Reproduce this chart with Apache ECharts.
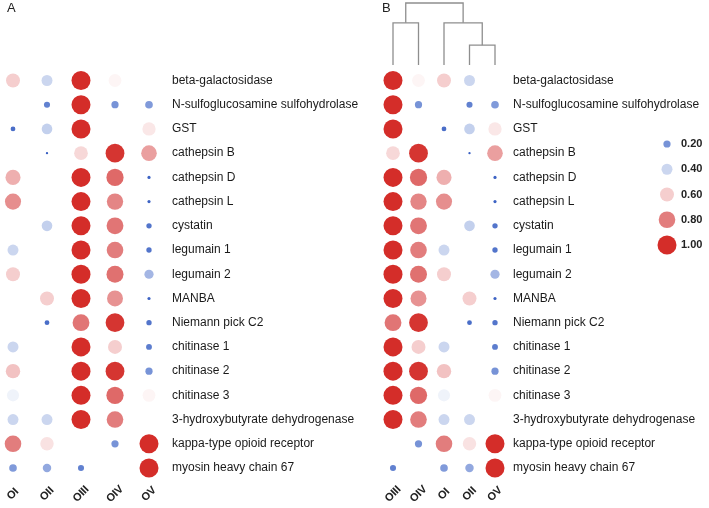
<!DOCTYPE html>
<html>
<head>
<meta charset="utf-8">
<script src="https://cdn.jsdelivr.net/npm/echarts@6/dist/echarts.min.js"></script>
<style>html,body{margin:0;background:#fff}#chart{width:709px;height:508px}</style>
</head>
<body>
<div id="chart"></div>
<script>
// genes (rows, top to bottom)
var genes = ['beta-galactosidase','N-sulfoglucosamine sulfohydrolase','GST','cathepsin B','cathepsin D',
  'cathepsin L','cystatin','legumain 1','legumain 2','MANBA','Niemann pick C2','chitinase 1',
  'chitinase 2','chitinase 3','3-hydroxybutyrate dehydrogenase','kappa-type opioid receptor','myosin heavy chain 67'];
var groupsA = ['OI','OII','OIII','OIV','OV'];
var groupsB = ['OIII','OIV','OI','OII','OV'];   // clustered order
// relative values per group (null = no dot)
var valOI   = [0.60,null,0.10,null,0.68,0.76,null,0.40,0.60,null,null,0.40,0.63,0.47,0.40,0.80,0.22];
var valOII  = [0.40,0.15,0.38,0.03,null,null,0.38,null,null,0.60,0.10,null,null,null,0.40,0.56,0.26];
var valOIII = [1.00,1.00,1.00,0.58,1.00,1.00,1.00,1.00,1.00,1.00,0.82,1.00,1.00,1.00,1.00,null,0.15];
var valOIV  = [0.52,0.20,null,0.98,0.85,0.78,0.82,0.80,0.83,0.75,0.98,0.60,0.98,0.85,0.80,0.20,null];
var valOV   = [null,0.22,0.55,0.72,0.05,0.05,0.12,0.12,0.30,0.05,0.12,0.14,0.20,0.52,null,1.00,1.00];
var legendVals = [0.20,0.40,0.60,0.80,1.00];
// dendrogram merges for panel B: [leftX, rightX, height, leftChildHeight, rightChildHeight]
var merges = [
  [3, 4, 0.32, 0, 0],
  [0, 1, 0.68, 0, 0],
  [2, 3.5, 0.68, 0, 0.32],
  [0.5, 2.75, 1.0, 0.68, 0.68]
];
var colorStops = ['#2f57bf','#4a6ec8','#7793d7','#a4b6e4','#cbd6ef','#ffffff',
  '#f5cece','#eca7a7','#e27d7d','#db5553','#d42d29'];

var byGroup = {OI: valOI, OII: valOII, OIII: valOIII, OIV: valOIV, OV: valOV};
function buildData(groups){
  var out = [];
  groups.forEach(function(g, gi){
    byGroup[g].forEach(function(v, ri){
      if (v !== null) out.push([gi, ri, v]);
    });
  });
  return out;
}
function dotSize(val){ return 19 * Math.pow(val[2], 0.6); }

var font = 'Liberation Sans, Arial, sans-serif';
function yAxisFor(idx, margin){
  return {
    type: 'category', gridIndex: idx, data: genes, inverse: true, boundaryGap: false, position: 'right',
    axisLine: {show: false}, axisTick: {show: false}, splitLine: {show: false},
    axisLabel: {margin: margin, fontSize: 12, color: '#1a1a1a', fontFamily: font}
  };
}
function xAxisFor(idx, groups){
  return {
    type: 'category', gridIndex: idx, data: groups, boundaryGap: false,
    axisLine: {show: false}, axisTick: {show: false}, splitLine: {show: false},
    axisLabel: {rotate: 45, margin: 26, align: 'center', verticalAlign: 'middle',
      fontSize: 11, fontWeight: 'bold', color: '#222', fontFamily: font}
  };
}

function renderBranch(params, api){
  var p1 = api.coord([api.value(0), api.value(3)]);
  var p2 = api.coord([api.value(0), api.value(2)]);
  var p3 = api.coord([api.value(1), api.value(2)]);
  var p4 = api.coord([api.value(1), api.value(4)]);
  return {
    type: 'polyline',
    shape: {points: [p1, p2, p3, p4]},
    style: {stroke: '#8e8e8e', lineWidth: 1.3, fill: 'none'}
  };
}

var dotStyle = {opacity: 1};
var chart = echarts.init(document.getElementById('chart'));
chart.setOption({
  animation: false,
  graphic: [
    {type: 'text', left: 7, top: 2, style: {text: 'A', fontSize: 13, fill: '#222', fontFamily: font}},
    {type: 'text', left: 382, top: 2, style: {text: 'B', fontSize: 13, fill: '#222', fontFamily: font}}
  ],
  grid: [
    {left: 13, top: 80.5, width: 136, height: 387.5},
    {left: 393, top: 80.5, width: 102, height: 387.5},
    {left: 393, top: 3, width: 102, height: 62},
    {left: 657, top: 144, width: 20, height: 101}
  ],
  xAxis: [
    xAxisFor(0, groupsA),
    xAxisFor(1, groupsB),
    {type: 'value', gridIndex: 2, min: 0, max: 4, show: false},
    {type: 'category', gridIndex: 3, data: [''], show: false}
  ],
  yAxis: [
    yAxisFor(0, 23),
    yAxisFor(1, 18),
    {type: 'value', gridIndex: 2, min: 0, max: 1, show: false},
    {type: 'category', gridIndex: 3, data: legendVals.map(function(v){ return v.toFixed(2); }),
      inverse: true, boundaryGap: false, position: 'right',
      axisLine: {show: false}, axisTick: {show: false},
      axisLabel: {margin: 4, fontSize: 11, fontWeight: 'bold', color: '#222', fontFamily: font}}
  ],
  visualMap: {
    show: false, type: 'continuous', min: 0, max: 1, dimension: 2,
    seriesIndex: [0, 1, 3], inRange: {color: colorStops}
  },
  series: [
    {type: 'scatter', xAxisIndex: 0, yAxisIndex: 0, data: buildData(groupsA), symbolSize: dotSize, itemStyle: dotStyle},
    {type: 'scatter', xAxisIndex: 1, yAxisIndex: 1, data: buildData(groupsB), symbolSize: dotSize, itemStyle: dotStyle},
    {type: 'custom', xAxisIndex: 2, yAxisIndex: 2, data: merges, renderItem: renderBranch,
      encode: {x: [0, 1], y: [2, 3, 4]}, silent: true},
    {type: 'scatter', xAxisIndex: 3, yAxisIndex: 3, itemStyle: dotStyle,
      data: legendVals.map(function(v, i){ return [0, i, v]; }), symbolSize: dotSize}
  ]
});
</script>
</body>
</html>
